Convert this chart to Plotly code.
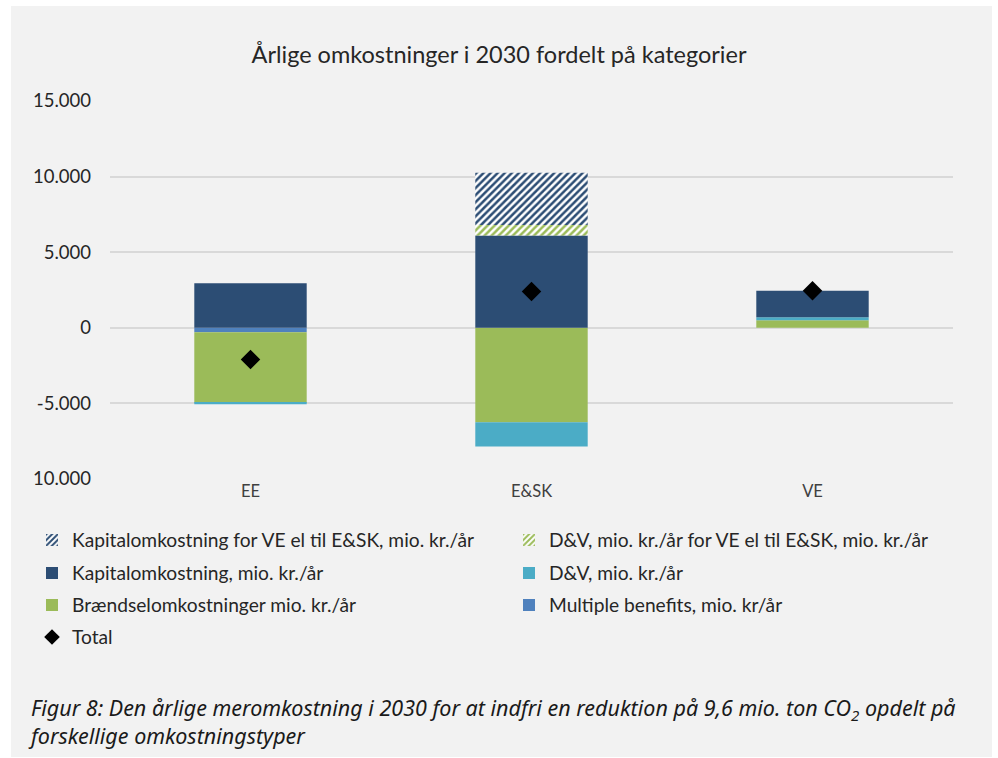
import plotly.graph_objects as go

CATEGORIES = ["EE", "E&SK", "VE"]

KAPITAL_VE = [0, 3450, 0]
DV_VE = [0, 700, 0]
KAPITAL = [2950, 6100, 1750]
DV = [-100, -1600, 200]
BRAENDSEL = [-4650, -6250, 500]
MULTIPLE = [-300, 0, 0]
TOTAL = [-2100, 2400, 2450]

Y_TICKS = [15000, 10000, 5000, 0, -5000, -10000]
Y_TICK_TEXT = ["15.000", "10.000", "5.000", "0", "-5.000", "10.000"]

TITLE = "Årlige omkostninger i 2030 fordelt på kategorier"
CAPTION = (
    "<i>Figur 8: Den årlige meromkostning i 2030 for at indfri en reduktion på 9,6 mio. "
    "ton CO<sub>2</sub> opdelt på<br>forskellige omkostningstyper</i>"
)

DARK_BLUE = "#2C4D74"
GREEN = "#9BBB59"
LIGHT_BLUE = "#4BACC6"
MID_BLUE = "#4F81BD"
BG = "#F2F2F2"
GRID = "#D9D9D9"
TEXT = "#262626"
FONT = "Lato"

# plot area in pixels
W, H = 998, 758
L, R, T, B = 110, 45, 101, 279
PW = W - L - R
PH = H - T - B


def px_x(x):
    return (x - L) / PW


def px_y(y):
    return (H - B - y) / PH


def main():
    fig = go.Figure()

    # stacking order (relative barmode): first trace sits next to zero
    series = [
        ("Multiple benefits, mio. kr/år", MULTIPLE, MID_BLUE, None, "legend6"),
        ("Brændselomkostninger mio. kr./år", BRAENDSEL, GREEN, None, "legend5"),
        ("D&V, mio. kr./år", DV, LIGHT_BLUE, None, "legend4"),
        ("Kapitalomkostning, mio. kr./år", KAPITAL, DARK_BLUE, None, "legend3"),
        ("D&V, mio. kr./år for VE el til E&SK, mio. kr./år", DV_VE, GREEN, "/", "legend2"),
        ("Kapitalomkostning for VE el til E&SK, mio. kr./år", KAPITAL_VE, DARK_BLUE, "/", "legend"),
    ]
    for name, values, color, hatch, legend in series:
        marker = dict(color=color, line_width=0)
        if hatch:
            marker = dict(
                color="white",
                line_width=0,
                pattern=dict(
                    shape=hatch,
                    fgcolor=color,
                    bgcolor="white",
                    size=5,
                    solidity=0.5,
                    fillmode="replace",
                ),
            )
        fig.add_trace(
            go.Bar(name=name, x=CATEGORIES, y=values, marker=marker, legend=legend)
        )

    fig.add_trace(
        go.Scatter(
            name="Total",
            x=CATEGORIES,
            y=TOTAL,
            mode="markers",
            marker=dict(symbol="diamond", size=15, color="black"),
            legend="legend7",
        )
    )

    # one legend per entry, laid out like the original two-column legend
    rows = [540, 573, 605, 637]
    cols = [32, 509]
    slots = [(0, 0), (0, 1), (1, 0), (1, 1), (2, 0), (2, 1), (3, 0)]
    legends = {}
    for i, (r, c) in enumerate(slots):
        key = "legend" if i == 0 else f"legend{i + 1}"
        legends[key] = dict(
            x=px_x(cols[c]),
            y=px_y(rows[r]),
            xanchor="left",
            yanchor="middle",
            orientation="h",
            bgcolor="rgba(0,0,0,0)",
            font=dict(family=FONT, size=19.2, color=TEXT),
            itemsizing="constant",
            itemwidth=30,
        )

    fig.add_shape(
        type="rect",
        xref="paper",
        yref="paper",
        x0=px_x(11),
        x1=px_x(992),
        y0=px_y(757),
        y1=px_y(6),
        fillcolor=BG,
        line_width=0,
        layer="below",
    )

    fig.add_annotation(
        text=CAPTION,
        xref="paper",
        yref="paper",
        x=px_x(26),
        y=px_y(721),
        xanchor="left",
        yanchor="middle",
        align="left",
        showarrow=False,
        font=dict(family="Noto Sans", size=21.5, color="#1A1A1A"),
    )

    fig.update_xaxes(
        tickfont=dict(family=FONT, size=16.5, color="#404040"),
        showgrid=False,
        showline=False,
        ticks="",
    )
    fig.update_yaxes(
        range=[-10000, 15000],
        tickvals=Y_TICKS,
        ticktext=Y_TICK_TEXT,
        tickfont=dict(family=FONT, size=18.5, color=TEXT),
        gridcolor=GRID,
        gridwidth=2,
        zeroline=False,
        showline=False,
        ticks="",
        ticklabelstandoff=18,
    )
    fig.update_layout(
        width=W,
        height=H,
        barmode="relative",
        bargap=0.6,
        showlegend=True,
        paper_bgcolor="white",
        plot_bgcolor="rgba(0,0,0,0)",
        margin=dict(l=L, r=R, t=T, b=B, autoexpand=False),
        title=dict(
            text=TITLE,
            x=0.5,
            xanchor="center",
            y=1 - 55 / H,
            yanchor="middle",
            font=dict(family=FONT, size=23.5, color=TEXT),
        ),
        **legends,
    )
    fig.write_html(
        "out.html",
        config={"displayModeBar": False},
        post_script="document.body.style.margin = '0';",
    )


if __name__ == "__main__":
    main()
